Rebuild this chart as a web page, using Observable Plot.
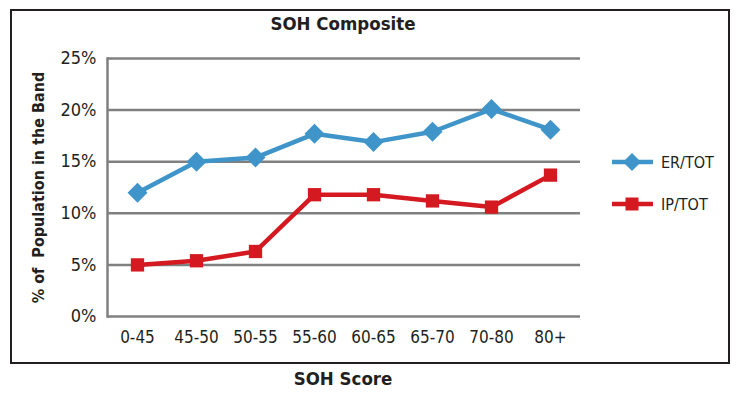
<!DOCTYPE html>
<html>
<head>
<meta charset="utf-8">
<script src="https://cdn.jsdelivr.net/npm/d3@7"></script>
<script src="https://cdn.jsdelivr.net/npm/@observablehq/plot@0.6"></script>
<style>
  html, body { margin: 0; padding: 0; background: #fff; }
  #wrap { position: relative; width: 737px; height: 399px; font-family: "Liberation Sans Narrow", "DejaVu Sans Condensed", "Arial Narrow", sans-serif; color: #231f20; }
  #box { position: absolute; left: 10px; top: 9px; width: 716px; height: 351px; border: 2px solid #231f20; }
  #title { position: absolute; left: 243px; width: 200px; top: 13px; text-align: center; font-weight: bold; font-size: 18.5px; }
  #xtitle { position: absolute; left: 243px; width: 200px; top: 368px; text-align: center; font-weight: bold; font-size: 18.5px; }
  #legend { position: absolute; left: 608px; top: 145px; }
  #chart { position: absolute; left: 0; top: 0; }
  #chart svg [aria-label="y-axis label"] text { font-weight: bold; font-size: 16px; }
</style>
</head>
<body>
<div id="wrap">
  <div id="box"></div>
  <div id="chart"></div>
  <div id="title">SOH Composite</div>
  <div id="xtitle">SOH Score</div>
  <div id="legend"></div>
</div>
<script>
const categories = ["0-45", "45-50", "50-55", "55-60", "60-65", "65-70", "70-80", "80+"];
const erTot = [12.0, 15.0, 15.4, 17.7, 16.9, 17.9, 20.1, 18.1];
const ipTot = [5.0, 5.4, 6.3, 11.8, 11.8, 11.2, 10.6, 13.7];
const seriesNames = ["ER/TOT", "IP/TOT"];
const seriesColors = ["#3f95c9", "#d41920"];
const yTicks = [0, 5, 10, 15, 20, 25];
const yLabel = "% of  Population in the Band";

const fontFamily = '"Liberation Sans Narrow", "DejaVu Sans Condensed", "Arial Narrow", sans-serif';

const rows = [];
categories.forEach((c, i) => {
  rows.push({band: c, value: erTot[i], series: seriesNames[0]});
  rows.push({band: c, value: ipTot[i], series: seriesNames[1]});
});
const er = rows.filter(d => d.series === seriesNames[0]);
const ip = rows.filter(d => d.series === seriesNames[1]);

const chart = Plot.plot({
  width: 737,
  height: 399,
  marginLeft: 107,
  marginRight: 157,
  marginTop: 58,
  marginBottom: 83,
  style: {fontFamily, fontSize: "17px", color: "#231f20", background: "transparent", overflow: "visible"},
  x: {type: "point", domain: categories, padding: 0.5},
  y: {domain: [0, 25], ticks: yTicks, tickFormat: d => d + "%"},
  marks: [
    Plot.ruleY(yTicks, {stroke: "#808080", strokeWidth: 2.5}),
    Plot.frame({anchor: "left", stroke: "#808080", strokeWidth: 2.5}),
    Plot.axisY({ticks: yTicks, tickFormat: d => d + "%", tickSize: 0, tickPadding: 11, fontSize: 18,
      label: yLabel, labelAnchor: "center", labelArrow: "none", labelOffset: 75}),
    Plot.axisX({tickSize: 0, tickPadding: 14, fontSize: 17, label: null}),
    Plot.line(er, {x: "band", y: "value", stroke: seriesColors[0], strokeWidth: 4.5}),
    Plot.line(ip, {x: "band", y: "value", stroke: seriesColors[1], strokeWidth: 4.5}),
    Plot.dot(er, {x: "band", y: "value", symbol: d3.symbolDiamond2, r: 9, fill: seriesColors[0], stroke: "none"}),
    Plot.dot(ip, {x: "band", y: "value", symbol: "square", r: 7.5, fill: seriesColors[1], stroke: "none"})
  ]
});
document.getElementById("chart").appendChild(chart);

// Legend
const lg = d3.select("#legend").append("svg").attr("width", 120).attr("height", 80)
  .style("font-family", fontFamily).style("overflow", "visible");
seriesNames.forEach((name, i) => {
  const g = lg.append("g").attr("transform", `translate(0, ${17 + i * 42})`);
  g.append("line").attr("x1", 4).attr("x2", 45).attr("y1", 0).attr("y2", 0)
    .attr("stroke", seriesColors[i]).attr("stroke-width", 4.5);
  if (i === 0) {
    g.append("path").attr("d", "M24,-9L33,0L24,9L15,0Z").attr("fill", seriesColors[i]);
  } else {
    g.append("rect").attr("x", 17.5).attr("y", -6.5).attr("width", 13).attr("height", 13).attr("fill", seriesColors[i]);
  }
  g.append("text").attr("x", 53).attr("y", 0).attr("dy", "0.35em").attr("font-size", 16).attr("fill", "#231f20").text(name);
});
</script>
</body>
</html>
